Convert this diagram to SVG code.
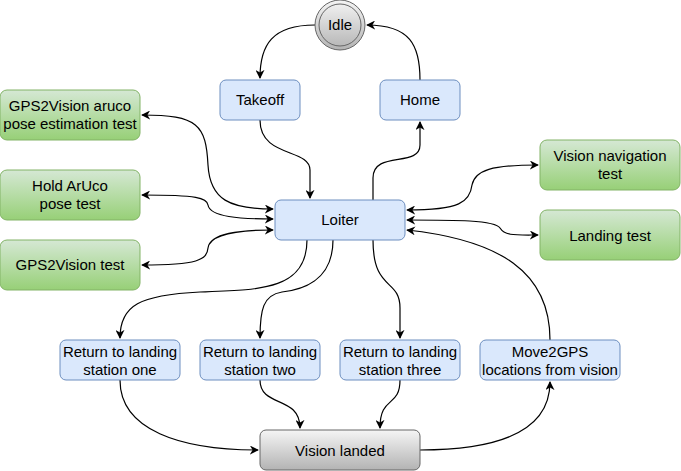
<svg xmlns="http://www.w3.org/2000/svg" width="681" height="471" viewBox="0 0 681 471">
<style>
.b{fill:#dae8fc;stroke:#6c8ebf;stroke-width:1}
.g{fill:url(#gg);stroke:#82b366;stroke-width:1}
.k{fill:url(#kg);stroke:#666666;stroke-width:1}
text{font-family:"Liberation Sans",Arial,sans-serif;font-size:15px;fill:#000;text-anchor:middle}
.e{fill:none;stroke:#000;stroke-width:1.2}
</style>
<defs>
<linearGradient id="gg" x1="0" y1="0" x2="0" y2="1"><stop offset="0" stop-color="#d5e8d4"/><stop offset="1" stop-color="#97d077"/></linearGradient>
<linearGradient id="kg" x1="0" y1="0" x2="0" y2="1"><stop offset="0" stop-color="#f5f5f5"/><stop offset="1" stop-color="#b3b3b3"/></linearGradient>
<marker id="a" viewBox="0 0 10 10" refX="9" refY="5" markerWidth="9" markerHeight="9" orient="auto-start-reverse" markerUnits="userSpaceOnUse"><path d="M0,0 L10,5 L0,10 L3,5 Z" fill="#000"/></marker>
</defs>
<g id="connectors">
<path class="e" marker-end="url(#a)" d="M315,25 C272,25 260,45 260,78"/>
<path class="e" marker-end="url(#a)" d="M420,80 C420,45 410,25 367,25"/>
<path class="e" marker-end="url(#a)" d="M260,120 C260,158 310,148 310,170 L310,198"/>
<path class="e" marker-end="url(#a)" d="M373,200 L373,178 C373,150 420,168 420,145 L420,122"/>
<path class="e" marker-start="url(#a)" marker-end="url(#a)" d="M142,115 C198,115 206,125 208,165 C210,200 230,209 273,209"/>
<path class="e" marker-start="url(#a)" marker-end="url(#a)" d="M142,195 C198,195 207,198 208,205 C210,217 240,219 273,219"/>
<path class="e" marker-start="url(#a)" marker-end="url(#a)" d="M142,265 C198,265 207,260 208,248 C210,233 240,230 273,230"/>
<path class="e" marker-start="url(#a)" marker-end="url(#a)" d="M407,210 C460,210 470,202 472,185 C475,170 492,165 538,165"/>
<path class="e" marker-start="url(#a)" marker-end="url(#a)" d="M407,220 C455,220 495,220 500,228 C505,236 515,235 538,235"/>
<path class="e" marker-end="url(#a)" d="M550,340 C550,272 500,240 407,230"/>
<path class="e" marker-end="url(#a)" d="M307,240 C307,290 260,290 200,292 C140,295 120,305 120,338"/>
<path class="e" marker-end="url(#a)" d="M333,240 C333,282 300,290 282,292 C263,295 260,310 260,338"/>
<path class="e" marker-end="url(#a)" d="M373,240 C373,292 400,278 400,308 L400,338"/>
<path class="e" marker-end="url(#a)" d="M120,380 C120,430 180,450 258,450"/>
<path class="e" marker-end="url(#a)" d="M260,380 C260,408 300,395 300,428"/>
<path class="e" marker-end="url(#a)" d="M400,380 C400,408 380,395 380,428"/>
<path class="e" marker-end="url(#a)" d="M420,450 C500,450 550,430 550,382"/>
</g>
<g id="idle"><circle cx="340" cy="25" r="25" class="k"/><circle cx="340" cy="25" r="21" fill="none" stroke="#666666"/><text x="340" y="30">Idle</text></g>
<g id="takeoff"><rect x="220" y="80" width="80" height="40" rx="6" class="b"/><text x="260" y="105">Takeoff</text></g>
<g id="home"><rect x="380" y="80" width="80" height="40" rx="6" class="b"/><text x="420" y="105">Home</text></g>
<g id="loiter"><rect x="275" y="200" width="130" height="40" rx="6" class="b"/><text x="340" y="225">Loiter</text></g>
<g id="gps2vision-aruco"><rect x="0" y="90" width="140" height="50" rx="7" class="g"/><text x="70" y="111">GPS2Vision aruco</text><text x="70" y="129">pose estimation test</text></g>
<g id="hold-aruco"><rect x="0" y="170" width="140" height="50" rx="7" class="g"/><text x="70" y="191">Hold ArUco</text><text x="70" y="209">pose test</text></g>
<g id="gps2vision-test"><rect x="0" y="240" width="140" height="50" rx="7" class="g"/><text x="70" y="270">GPS2Vision test</text></g>
<g id="vision-nav"><rect x="540" y="140" width="140" height="50" rx="7" class="g"/><text x="610" y="161">Vision navigation</text><text x="610" y="179">test</text></g>
<g id="landing-test"><rect x="540" y="210" width="140" height="50" rx="7" class="g"/><text x="610" y="241">Landing test</text></g>
<g id="rtl-one"><rect x="60" y="340" width="120" height="40" rx="6" class="b"/><text x="120" y="357">Return to landing</text><text x="120" y="375">station one</text></g>
<g id="rtl-two"><rect x="200" y="340" width="120" height="40" rx="6" class="b"/><text x="260" y="357">Return to landing</text><text x="260" y="375">station two</text></g>
<g id="rtl-three"><rect x="340" y="340" width="120" height="40" rx="6" class="b"/><text x="400" y="357">Return to landing</text><text x="400" y="375">station three</text></g>
<g id="move2gps"><rect x="480" y="340" width="140" height="40" rx="6" class="b"/><text x="550" y="357">Move2GPS</text><text x="550" y="375">locations from vision</text></g>
<g id="vision-landed"><rect x="260" y="430" width="160" height="40" rx="6" class="k"/><text x="340" y="456">Vision landed</text></g>
</svg>
